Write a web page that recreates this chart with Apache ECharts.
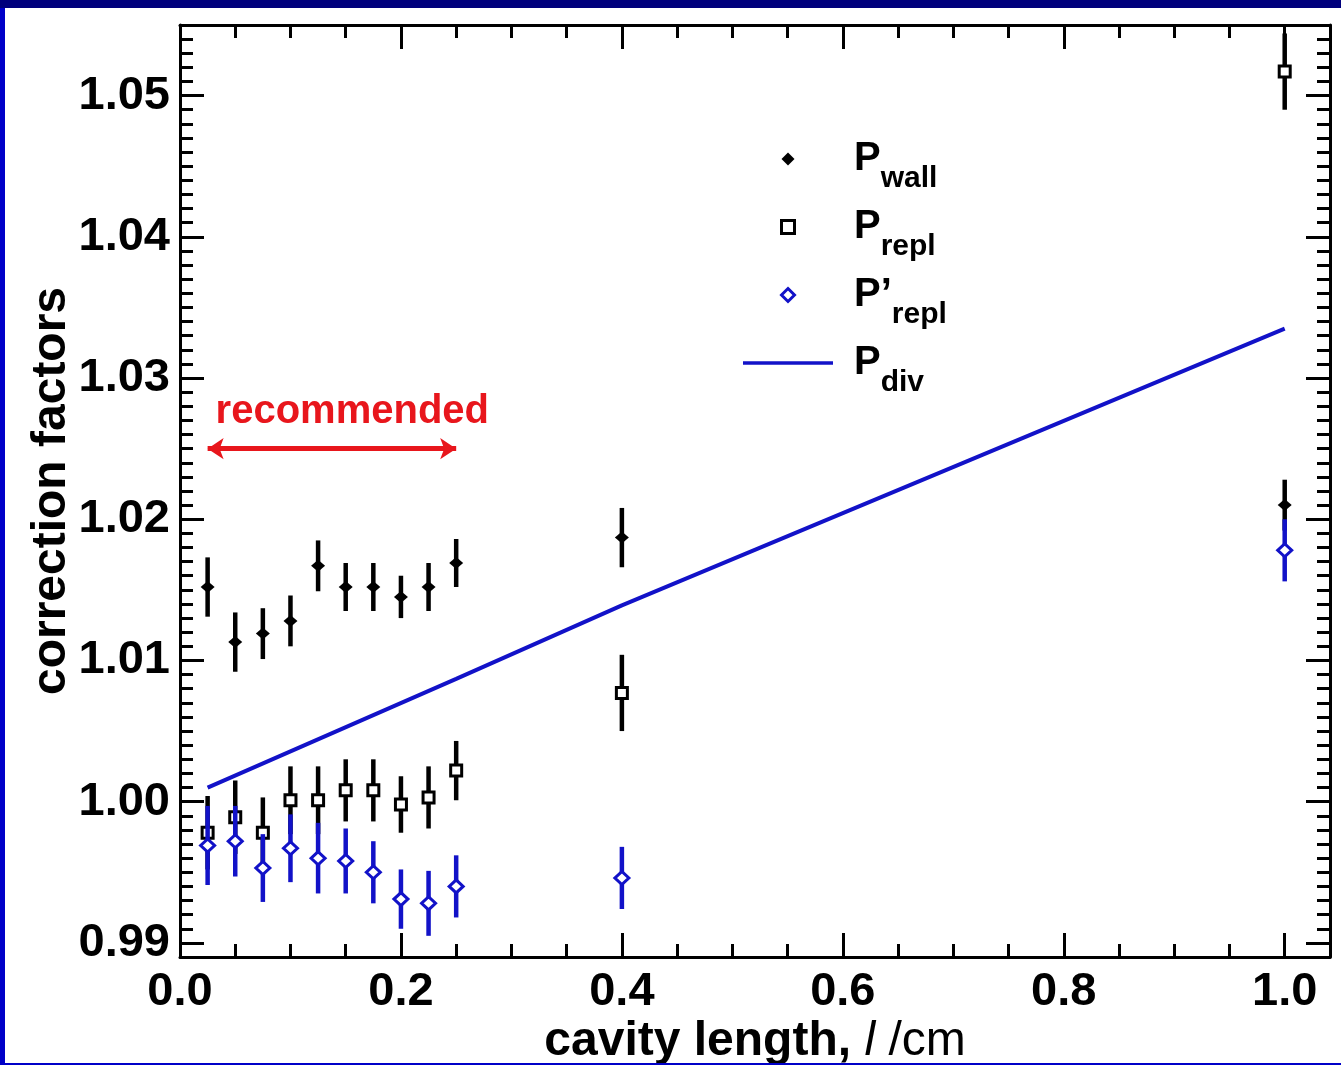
<!DOCTYPE html>
<html>
<head>
<meta charset="utf-8">
<title>Correction factors vs cavity length</title>
<script src="https://cdn.jsdelivr.net/npm/echarts@6/dist/echarts.min.js"></script>
<style>
  html, body { margin: 0; padding: 0; background: #ffffff; }
  #chart { width: 1341px; height: 1065px; }
</style>
</head>
<body>
<div id="chart"></div>
<script>
// ---- data -------------------------------------------------------------
const cavityLength = [0.025, 0.05, 0.075, 0.1, 0.125, 0.15, 0.175, 0.2, 0.225, 0.25, 0.4, 1.0];

const pWall       = [1.0152, 1.0113, 1.0119, 1.0128, 1.0167, 1.0152, 1.0152, 1.0145, 1.0152, 1.0169, 1.0187, 1.0210];
const pWallErr    = [0.0021, 0.0021, 0.0018, 0.0018, 0.0018, 0.0017, 0.0017, 0.0015, 0.0017, 0.0017, 0.0021, 0.0018];

const pRepl       = [0.9978, 0.9989, 0.9978, 1.0001, 1.0001, 1.0008, 1.0008, 0.9998, 1.0003, 1.0022, 1.0077, 1.0517];
const pReplErr    = [0.0026, 0.0026, 0.0025, 0.0024, 0.0024, 0.0022, 0.0022, 0.0020, 0.0022, 0.0021, 0.0027, 0.0027];

const pReplPrime    = [0.9969, 0.9972, 0.9953, 0.9967, 0.9960, 0.9958, 0.9950, 0.9931, 0.9928, 0.9940, 0.9946, 1.0178];
const pReplPrimeErr = [0.0028, 0.0025, 0.0024, 0.0024, 0.0025, 0.0023, 0.0022, 0.0021, 0.0023, 0.0022, 0.0022, 0.0022];

const pDivLength = [0.025, 0.25, 0.4, 1.0];
const pDiv       = [1.0010, 1.0087, 1.0139, 1.0335];

const recommendedRange = [0.025, 0.25];
const recommendedLevel = 1.025;

const xTickValues = [0.0, 0.2, 0.4, 0.6, 0.8, 1.0];
const yTickValues = [0.99, 1.00, 1.01, 1.02, 1.03, 1.04, 1.05];

// ---- styling ----------------------------------------------------------
const FONT = "'Liberation Sans', Arial, Helvetica, sans-serif";
const BLUE = '#1212c8';
const RED = '#e8161c';
const X_MIN = 0, X_MAX = 1.041;
const Y_MIN = 0.989, Y_MAX = 1.055;

const tickStyle = { color: '#000', width: 3 };

function xAxisDef(position, major, extra) {
  return Object.assign({
    type: 'value', position: position, min: X_MIN, max: X_MAX,
    axisLine: { show: !major, onZero: false, lineStyle: { color: '#000', width: 3 } },
    axisTick: major
      ? { show: true, inside: true, length: 24, lineStyle: tickStyle, customValues: xTickValues }
      : { show: true, inside: true, length: 13, lineStyle: tickStyle },
    axisLabel: { show: false },
    splitLine: { show: false }
  }, major ? {} : { interval: 0.05 }, extra || {});
}

function yAxisDef(position, major, extra) {
  return Object.assign({
    type: 'value', position: position, min: Y_MIN, max: Y_MAX,
    axisLine: { show: !major, onZero: false, lineStyle: { color: '#000', width: 3 } },
    axisTick: major
      ? { show: true, inside: true, length: 24, lineStyle: tickStyle, customValues: yTickValues }
      : { show: true, inside: true, length: 13, lineStyle: tickStyle },
    axisLabel: { show: false },
    splitLine: { show: false }
  }, major ? {} : { interval: 0.001 }, extra || {});
}

function pairs(xs, ys) { return xs.map((x, i) => [x, ys[i]]); }

function errorBars(name, ys, errs, color, z) {
  return {
    type: 'custom', name: name, z: z, silent: true, animation: false,
    data: cavityLength.map((x, i) => [x, ys[i] - errs[i], ys[i] + errs[i]]),
    encode: { x: 0, y: [1, 2] },
    renderItem: function (params, api) {
      const lo = api.coord([api.value(0), api.value(1)]);
      const hi = api.coord([api.value(0), api.value(2)]);
      return {
        type: 'line',
        shape: { x1: lo[0], y1: lo[1], x2: hi[0], y2: hi[1] },
        style: { stroke: color, lineWidth: 4.5 }
      };
    }
  };
}

const legendLabels = {
  'Pwall':  '{p|P}{s|wall}',
  'Prepl':  '{p|P}{s|repl}',
  'P1repl': '{p|P\u2019}{s|repl}',
  'Pdiv':   '{p|P}{s|div}'
};

// legend glyphs: small marks centred in a wide slot, full-width bar for the line
const ICON_DIAMOND = 'path://M0,-6L6,0L0,6L-6,0Z';
const ICON_SQUARE  = 'path://M-5,-5H5V5H-5Z';
const ICON_LINE    = 'path://M0,0H90V3.5H0Z';

const chart = echarts.init(document.getElementById('chart'), null, { renderer: 'canvas' });

chart.setOption({
  backgroundColor: '#ffffff',
  animation: false,
  textStyle: { fontFamily: FONT },
  grid: { left: 180, top: 25, right: 11, bottom: 108, containLabel: false, outerBoundsMode: 'none' },
  xAxis: [
    xAxisDef('bottom', false),
    xAxisDef('bottom', true, {
      axisLabel: {
        show: true, customValues: xTickValues, margin: 12,
        formatter: v => v.toFixed(1),
        color: '#000', fontSize: 47, fontWeight: 'bold', fontFamily: FONT
      },
      name: '{b|cavity length, }{i|l}{r| /cm}',
      nameLocation: 'middle', nameGap: 61, nameMoveOverlap: false,
      nameTextStyle: {
        rich: {
          b: { fontSize: 48, fontWeight: 'bold', color: '#000', fontFamily: FONT },
          i: { fontSize: 48, fontStyle: 'italic', color: '#000', fontFamily: FONT },
          r: { fontSize: 48, color: '#000', fontFamily: FONT }
        }
      }
    }),
    xAxisDef('top', false),
    xAxisDef('top', true)
  ],
  yAxis: [
    yAxisDef('left', false),
    yAxisDef('left', true, {
      axisLabel: {
        show: true, customValues: yTickValues, margin: 10,
        formatter: v => v.toFixed(2),
        color: '#000', fontSize: 47, fontWeight: 'bold', fontFamily: FONT
      },
      name: 'correction factors',
      nameLocation: 'middle', nameGap: 104, nameMoveOverlap: false,
      nameTextStyle: { fontSize: 48, fontWeight: 'bold', color: '#000', fontFamily: FONT }
    }),
    yAxisDef('right', false),
    yAxisDef('right', true)
  ],
  legend: {
    orient: 'vertical', left: 738, top: 119,
    itemWidth: 90, itemHeight: 13, itemGap: -2,
    symbolKeepAspect: true,
    selectedMode: false,
    data: [
      { name: 'Pwall', icon: ICON_DIAMOND },
      { name: 'Prepl', icon: ICON_SQUARE, itemStyle: { borderWidth: 3 } },
      { name: 'P1repl', icon: ICON_DIAMOND, itemStyle: { borderWidth: 3 } },
      { name: 'Pdiv', icon: ICON_LINE, itemStyle: { color: BLUE, borderWidth: 0 } }
    ],
    formatter: n => legendLabels[n],
    textStyle: {
      rich: {
        p: { fontSize: 40, fontWeight: 'bold', color: '#000', fontFamily: FONT, lineHeight: 70, padding: [0, 0, 0, 16] },
        s: { fontSize: 30, fontWeight: 'bold', color: '#000', fontFamily: FONT, lineHeight: 24, padding: [40, 0, 0, 0] }
      }
    }
  },
  series: [
    errorBars('Pwall error', pWall, pWallErr, '#000', 2),
    {
      type: 'scatter', name: 'Pwall', z: 3,
      data: pairs(cavityLength, pWall),
      symbol: 'diamond', symbolSize: [14, 12],
      itemStyle: { color: '#000', opacity: 1 }
    },
    errorBars('Prepl error', pRepl, pReplErr, '#000', 2),
    {
      type: 'scatter', name: 'Prepl', z: 3,
      data: pairs(cavityLength, pRepl),
      symbol: 'rect', symbolSize: 11,
      itemStyle: { color: '#fff', borderColor: '#000', borderWidth: 3, opacity: 1 }
    },
    {
      type: 'line', name: 'Pdiv', z: 3,
      data: pairs(pDivLength, pDiv),
      symbol: 'none', showSymbol: false,
      lineStyle: { color: BLUE, width: 4 },
      itemStyle: { color: BLUE },
      markLine: {
        silent: true, animation: false,
        symbol: ['arrow', 'arrow'], symbolSize: 16,
        lineStyle: { color: RED, width: 5, type: 'solid' },
        label: {
          show: true, position: 'insideStartTop', distance: [8, 17],
          formatter: 'recommended',
          color: RED, fontSize: 40, fontWeight: 'bold', fontFamily: FONT
        },
        data: [[
          { coord: [recommendedRange[0], recommendedLevel] },
          { coord: [recommendedRange[1], recommendedLevel] }
        ]]
      }
    },
    errorBars('P1repl error', pReplPrime, pReplPrimeErr, BLUE, 4),
    {
      type: 'scatter', name: 'P1repl', z: 5,
      data: pairs(cavityLength, pReplPrime),
      symbol: 'diamond', symbolSize: [14, 13],
      itemStyle: { color: '#fff', borderColor: BLUE, borderWidth: 3, opacity: 1 }
    }
  ],
  graphic: [
    { type: 'rect', z: 100, shape: { x: 0, y: 0, width: 5, height: 1065 }, style: { fill: '#0000c8' } },
    { type: 'rect', z: 100, shape: { x: 0, y: 1063, width: 1341, height: 2 }, style: { fill: '#0000c8' } },
    { type: 'rect', z: 101, shape: { x: 0, y: 0, width: 1341, height: 8 }, style: { fill: '#00007c' } }
  ]
});
</script>
</body>
</html>
